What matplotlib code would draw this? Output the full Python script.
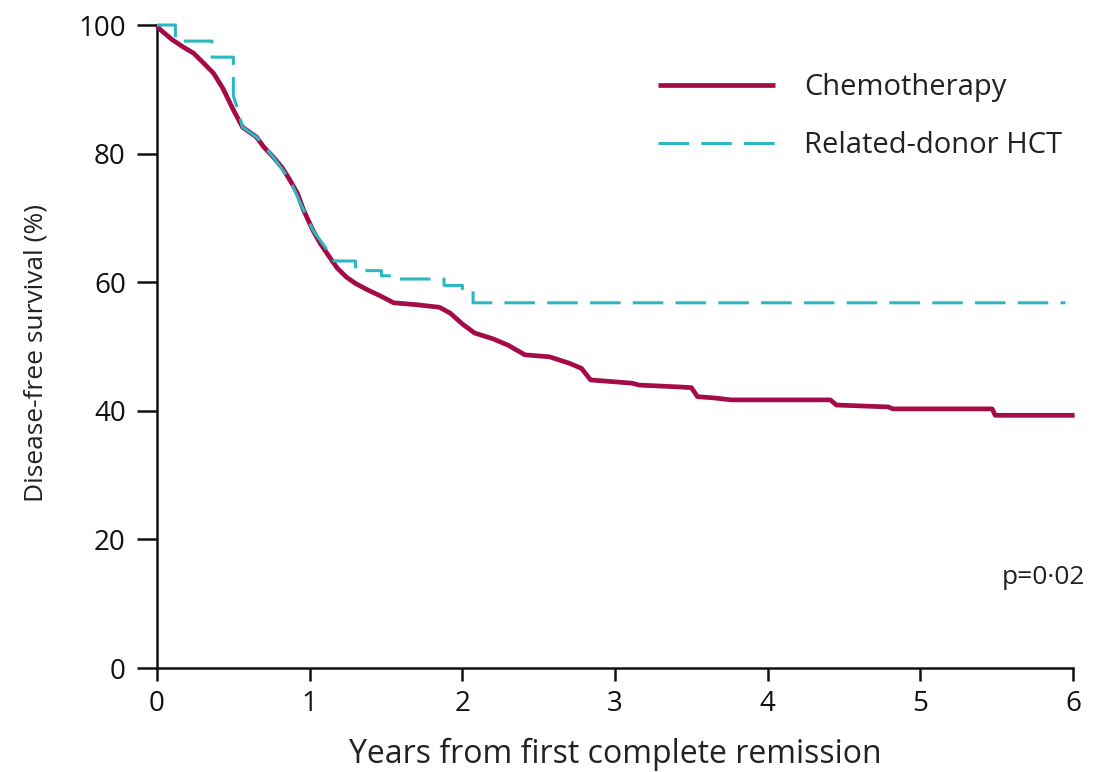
import matplotlib
matplotlib.use("Agg")
import matplotlib.pyplot as plt

# Disease-free survival estimates (years, %)
chemo_years = [0.00, 0.02, 0.10, 0.17, 0.24, 0.30, 0.37, 0.43, 0.50, 0.56, 0.65,
               0.70, 0.76, 0.82, 0.87, 0.92, 0.96, 1.02, 1.07, 1.13, 1.18, 1.24,
               1.30, 1.38, 1.46, 1.55, 1.70, 1.85, 1.92, 2.00, 2.08, 2.20, 2.30,
               2.41, 2.57, 2.70, 2.78, 2.84, 3.11, 3.16, 3.43, 3.50, 3.54, 3.65,
               3.76, 4.41, 4.45, 4.79, 4.82, 5.47, 5.49, 6.01]
chemo_dfs = [100.0, 99.3, 97.7, 96.6, 95.6, 94.2, 92.5, 90.2, 86.8, 84.1, 82.6,
             81.0, 79.5, 77.8, 75.9, 73.8, 71.2, 68.1, 66.0, 63.9, 62.2, 60.8,
             59.8, 58.8, 57.9, 56.8, 56.5, 56.1, 55.2, 53.5, 52.1, 51.2, 50.2,
             48.7, 48.4, 47.4, 46.6, 44.8, 44.3, 44.0, 43.7, 43.6, 42.2, 42.0,
             41.7, 41.7, 40.9, 40.6, 40.3, 40.3, 39.3, 39.3]

# transplant arm: corners of the survival staircase
hct_years = [0.00, 0.12, 0.12, 0.36, 0.36, 0.50, 0.50, 0.52, 0.56, 0.65, 0.76,
             0.87, 0.96, 1.02, 1.10, 1.16, 1.30, 1.30, 1.47, 1.47, 1.55, 1.55,
             1.88, 1.88, 2.00, 2.00, 2.07, 2.07, 5.95]
hct_dfs = [100.0, 100.0, 97.5, 97.5, 95.0, 95.0, 89.0, 87.5, 84.1, 82.6, 79.5,
           75.9, 71.2, 68.1, 65.5, 63.3, 63.3, 61.8, 61.8, 61.0, 61.0, 60.5,
           60.5, 59.5, 59.5, 58.8, 58.8, 56.8, 56.8]

x_ticks = [0, 1, 2, 3, 4, 5, 6]
y_ticks = [0, 20, 40, 60, 80, 100]
series_labels = ["Chemotherapy", "Related-donor HCT"]
p_text = "p=0\u00b702"

plt.rcParams["font.family"] = ["Open Sans", "DejaVu Sans"]

fig = plt.figure(figsize=(10.99, 7.72), dpi=100)
ax = fig.add_axes([0.1429, 0.1347, 0.8335, 0.8329])

ax.plot(chemo_years, chemo_dfs, color="#a30c47", lw=3.4,
        solid_joinstyle="round", solid_capstyle="butt", clip_on=False,
        zorder=3, label=series_labels[0])
ax.plot(hct_years, hct_dfs, color="#2bb8c0", lw=2.2, dashes=(10, 4),
        clip_on=False, zorder=4, label=series_labels[1])

ax.set_xlim(0, 6)
ax.set_ylim(0, 100)
ax.set_xticks(x_ticks)
ax.set_yticks(y_ticks)
ax.tick_params(axis="both", direction="out", width=1.8, labelsize=20,
               colors="#111111")
ax.tick_params(axis="x", length=9.5, pad=6)
ax.tick_params(axis="y", length=14.5, pad=8)

for side in ("top", "right"):
    ax.spines[side].set_visible(False)
for side in ("left", "bottom"):
    ax.spines[side].set_linewidth(1.8)
    ax.spines[side].set_color("#111111")

ax.set_xlabel("Years from first complete remission", fontsize=23,
              color="#222222")
ax.xaxis.set_label_coords(0.5, -0.1475)
ax.xaxis.label.set_verticalalignment("baseline")
ax.set_ylabel("Disease-free survival (%)", fontsize=19, color="#222222")
ax.yaxis.set_label_coords(-0.118, 0.49)

leg = ax.legend(loc="upper left", bbox_to_anchor=(0.547, 0.925),
                frameon=False, fontsize=21, handlelength=4.0,
                handletextpad=1.0, labelspacing=1.0, borderpad=0,
                borderaxespad=0)
for t in leg.get_texts():
    t.set_color("#222222")

ax.text(1.013, 0.14, p_text, transform=ax.transAxes, ha="right",
        va="center", fontsize=19, color="#222222")

fig.savefig("out.png", dpi=100)
